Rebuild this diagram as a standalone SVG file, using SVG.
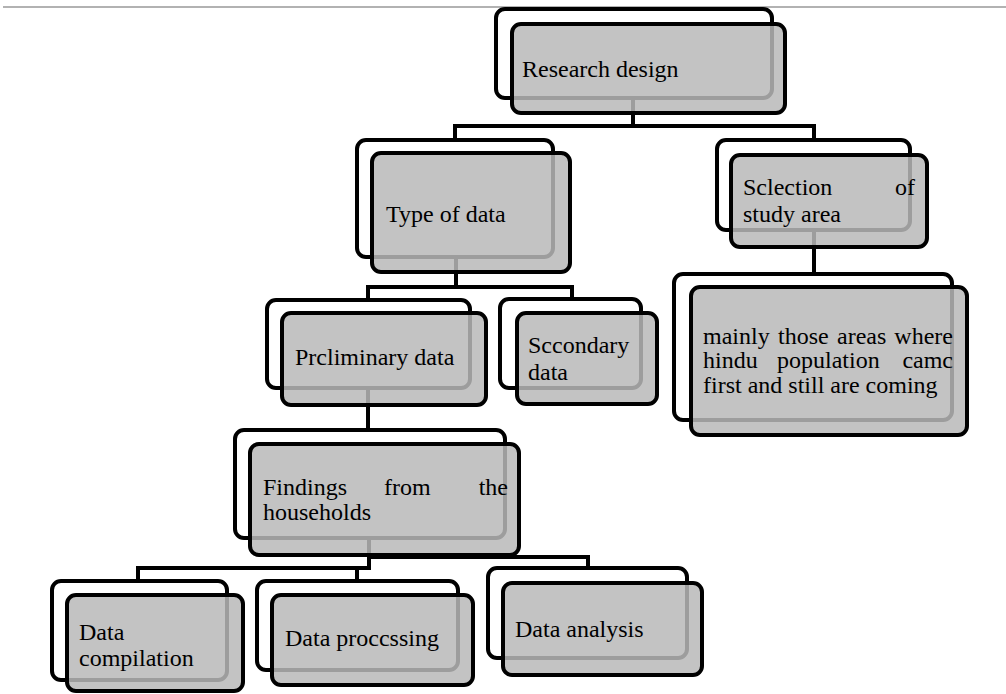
<svg xmlns="http://www.w3.org/2000/svg" width="1006" height="694" viewBox="0 0 1006 694">
<style>
.back{fill:#ffffff;stroke:#000;stroke-width:4}
.front{fill:#b9b9b9;fill-opacity:0.85;stroke:#000;stroke-width:4}
.conn{fill:none;stroke:#000;stroke-width:4;stroke-linejoin:miter}
text{font-family:"Liberation Serif","Times New Roman",serif;font-size:24px;fill:#000}
</style>
<rect width="1006" height="694" fill="#fff"/>
<line x1="3" y1="7" x2="1006" y2="7" stroke="#666" stroke-width="1.2"/>
<g id="backs">
<rect class="back" x="496" y="9" width="276" height="89" rx="9"/>
<rect class="back" x="357" y="140" width="196" height="117" rx="9"/>
<rect class="back" x="717" y="140" width="193" height="90" rx="9"/>
<rect class="back" x="267" y="300" width="203" height="88" rx="9"/>
<rect class="back" x="500" y="299" width="141" height="89" rx="9"/>
<rect class="back" x="674" y="274" width="278" height="146" rx="9"/>
<rect class="back" x="235" y="430" width="270" height="108" rx="9"/>
<rect class="back" x="52" y="581" width="175" height="99" rx="9"/>
<rect class="back" x="257" y="581" width="201" height="89" rx="9"/>
<rect class="back" x="488" y="568" width="199" height="90" rx="9"/>
</g>
<g id="connectors">
<path class="conn" d="M633 98 V126 M455 126 H815 M455 124 V140 M814 124 V140"/>
<path class="conn" d="M456 257 V287 M368 287 H572 M368 285 V300 M572 285 V299"/>
<path class="conn" d="M814 230 V274"/>
<path class="conn" d="M368 388 V430"/>
<path class="conn" d="M369 538 V568 M369 557 H588 M588 555 V568 M138 568 H371 M138 566 V581 M357 566 V581"/>
</g>
<g id="node-research-design">
<rect class="front" x="512" y="24" width="273" height="89" rx="9"/>
<text x="522" y="77">Research design</text>
</g>
<g id="node-type-of-data">
<rect class="front" x="372" y="153" width="198" height="119" rx="9"/>
<text x="386" y="222">Type of data</text>
</g>
<g id="node-selection">
<rect class="front" x="731" y="155" width="196" height="92" rx="9"/>
<text x="743" y="195">Sclection</text>
<text x="915" y="195" text-anchor="end">of</text>
<text x="743" y="222">study area</text>
</g>
<g id="node-preliminary">
<rect class="front" x="282" y="313" width="204" height="92" rx="9"/>
<text x="295" y="365">Prcliminary data</text>
</g>
<g id="node-secondary">
<rect class="front" x="517" y="313" width="140" height="91" rx="9"/>
<text x="528" y="353">Sccondary</text>
<text x="528" y="380">data</text>
</g>
<g id="node-mainly">
<rect class="front" x="691" y="287" width="276" height="148" rx="9"/>
<text y="344"><tspan x="703">mainly</tspan><tspan x="778">those</tspan><tspan x="837">areas</tspan><tspan x="953" text-anchor="end">where</tspan></text>
<text y="368"><tspan x="703">hindu</tspan><tspan x="777">population</tspan><tspan x="953" text-anchor="end">camc</tspan></text>
<text x="703" y="393">first and still are coming</text>
</g>
<g id="node-findings">
<rect class="front" x="250" y="444" width="269" height="111" rx="9"/>
<text y="495"><tspan x="263">Findings</tspan><tspan x="384">from</tspan><tspan x="508" text-anchor="end">the</tspan></text>
<text x="263" y="520">households</text>
</g>
<g id="node-data-compilation">
<rect class="front" x="67" y="595" width="176" height="96" rx="9"/>
<text x="79" y="640">Data</text>
<text x="79" y="666">compilation</text>
</g>
<g id="node-data-processing">
<rect class="front" x="272" y="595" width="201" height="90" rx="9"/>
<text x="285" y="646">Data proccssing</text>
</g>
<g id="node-data-analysis">
<rect class="front" x="503" y="583" width="199" height="92" rx="9"/>
<text x="515" y="637">Data analysis</text>
</g>
</svg>
